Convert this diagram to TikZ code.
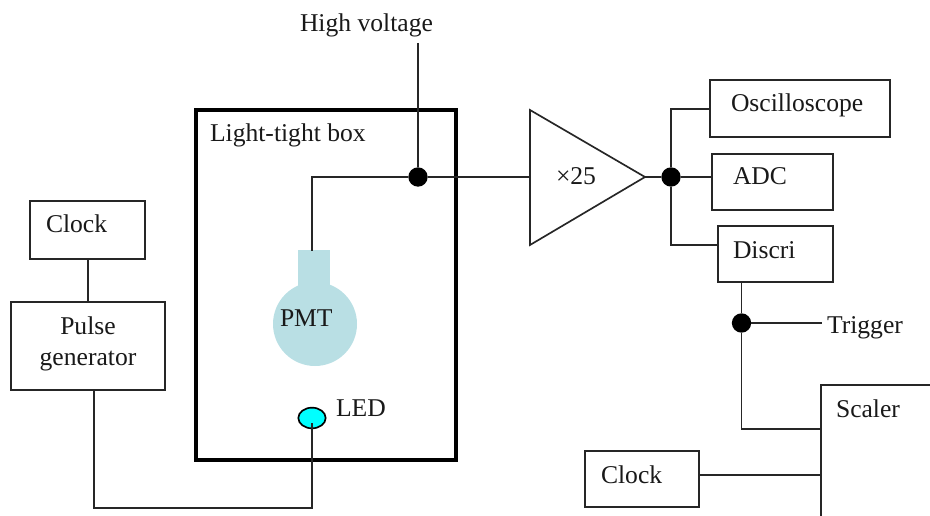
\documentclass[tikz,border=0pt]{standalone}
\usepackage{fontspec}
\setmainfont{Liberation Serif}
\usetikzlibrary{shapes.geometric}
\definecolor{pmtblue}{RGB}{185,223,228}
\definecolor{ledcyan}{RGB}{0,255,255}
\newcommand{\bx}[5]{\node[boxst,minimum width=#4*0.75pt-#2*0.75pt,minimum height=#5*0.75pt-#3*0.75pt] (#1) at ({(#2+#4)/2},{-(#3+#5)/2}) {};}
\tikzset{
  x=0.75pt,y=0.75pt,
  boxst/.style={draw=black!85,line width=1.25pt,inner sep=0,outer sep=0,fill=white},
  wire/.style={draw=black!85,line width=1.25pt},
  txt/.style={anchor=base west,inner sep=0,outer sep=0,font=\fontsize{19.2pt}{22pt}\selectfont,text=black!90},
  ctxt/.style={txt,anchor=base},
  dot/.style={circle,fill=black,draw=none,minimum size=14.5pt,inner sep=0,outer sep=0},
}
\begin{document}
\begin{tikzpicture}
\useasboundingbox (0,0) rectangle (930,-516);
\coordinate (hvtop) at (418,-43);
\coordinate (pmttop) at (312,-251);
\coordinate (ledc) at (312,-418);
\coordinate (ledw) at (312,-423);
\coordinate (wb1) at (94,-508);
\coordinate (wb2) at (312,-508);
\coordinate (osctap) at (671,-109);
\coordinate (disctap) at (671,-245);
\coordinate (sc1) at (821,-516);
\coordinate (sc2) at (821,-385);
\coordinate (sc3) at (930,-385);
\coordinate (sctap) at (821,-429);
\coordinate (sclk) at (821,-475);
\coordinate (trigend) at (822,-323);
\coordinate (clkw) at (88,-259);
% PMT
\fill[pmtblue] (315,-324) circle (42);
\fill[pmtblue] (298,-250) rectangle (330,-290);
% Main box
\node[draw=black,line width=3pt,minimum width=195pt,minimum height=262pt,inner sep=0,outer sep=0] (ltbox) at (325.5,-285) {};
% Boxes
\bx{clkA}{30}{201}{145}{259}
\bx{pulse}{11}{302}{165}{390}
\bx{osc}{710}{80}{890}{137}
\bx{adc}{712}{154}{833}{210}
\bx{disc}{718}{226}{833}{282}
\bx{clkB}{585}{451}{699}{507}
% Amplifier
\coordinate (ampA) at (530,-110);
\coordinate (ampB) at (530,-245);
\coordinate (amp) at (645,-177);
\coordinate (ampin) at (530,-177);
\draw[wire,fill=white] (ampA) -- (amp) -- (ampB) -- cycle;
% Dots
\node[dot] (j1) at (418,-177) {};
\node[dot] (j2) at (671,-177) {};
\node[dot] (j3) at (741.5,-323) {};
% LED
\node[ellipse,draw=black,line width=1.25pt,fill=ledcyan,minimum width=20.5pt,minimum height=15.5pt,inner sep=0,outer sep=0] (led) at (ledc) {};
% Wires
\draw[wire] (pmttop) |- (j1);
\draw[wire] (hvtop) -- (j1);
\draw[wire] (j1) -- (ampin);
\draw[wire] (amp) -- (j2);
\draw[wire] (j2) -- (adc.west |- j2);
\draw[wire] (j2) |- (osctap -| osc.west);
\draw[wire] (j2) |- (disctap -| disc.west);
\draw[wire] (clkw) -- (clkw |- pulse.north);
\draw[wire] (wb1 |- pulse.south) -- (wb1) -- (wb2) -- (ledw);
\draw[wire] (j3 |- disc.south) -- (j3);
\draw[wire] (j3) -- (trigend);
\draw[wire] (j3) |- (sctap);
\draw[wire] (clkB.east |- sclk) -- (sclk);
\draw[wire] (sc1) -- (sc2) -- (sc3);
% Labels
\node[txt] (tHV) at (300,-32) {High voltage};
\node[txt] (tLT) at (210,-142) {Light-tight box};
\node[txt] (tOsc) at (731,-112) {Oscilloscope};
\node[txt] (tAmp) at (556,-185) {×25};
\node[txt] (tAdc) at (733,-185) {ADC};
\node[txt] (tDis) at (733,-258) {Discri};
\node[txt] (tTrg) at (827,-333) {Trigger};
\node[txt] (tScl) at (836,-417) {Scaler};
\node[txt] (tClkB) at (601,-483) {Clock};
\node[txt] (tClkA) at (46,-233) {Clock};
\node[ctxt] (tPul) at (88,-334) {Pulse};
\node[ctxt] (tGen) at (88,-365) {generator};
\node[txt] (tPMT) at (280,-326) {PMT};
\node[txt] (tLED) at (336,-416) {LED};
\end{tikzpicture}
\end{document}
